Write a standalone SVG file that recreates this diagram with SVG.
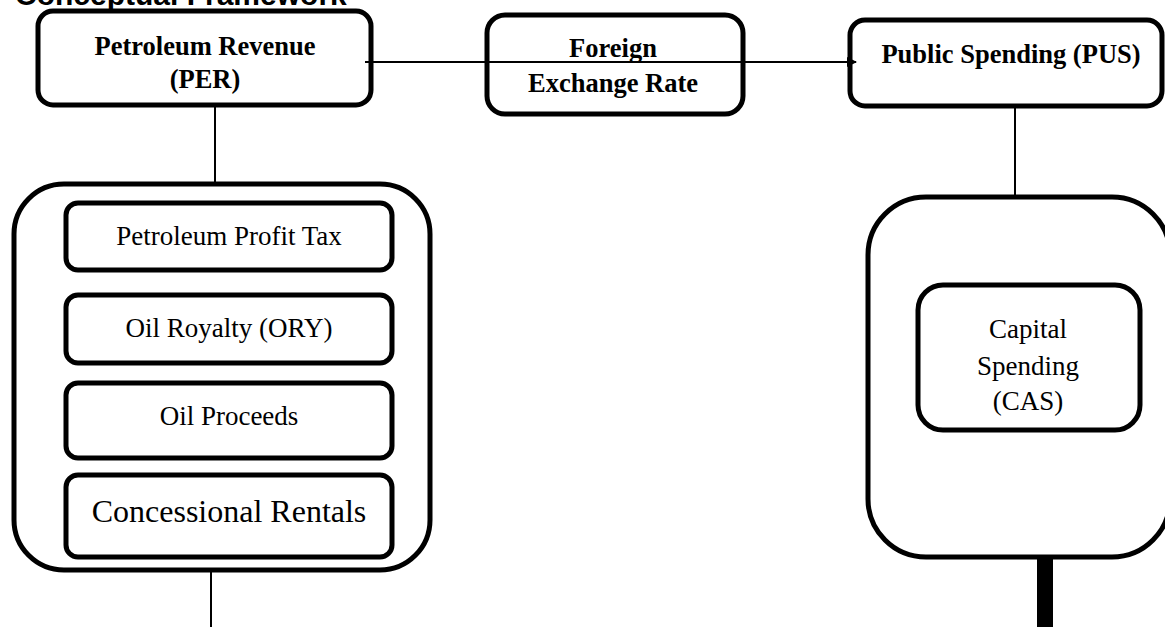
<svg xmlns="http://www.w3.org/2000/svg" width="1165" height="627" viewBox="0 0 1165 627">
<style>
.box{fill:#fff;stroke:#000;stroke-width:5}
.big{fill:#fff;stroke:#000;stroke-width:5}
.hb{font-family:"Liberation Serif","Times New Roman",serif;font-weight:bold;font-size:26.5px;text-anchor:middle;fill:#000}
.t{font-family:"Liberation Serif","Times New Roman",serif;font-size:27px;text-anchor:middle;fill:#000}
.ln{stroke:#000;stroke-width:2;fill:none}
</style>
<defs>
<marker id="arr" markerWidth="10" markerHeight="10" refX="9" refY="5" orient="auto" markerUnits="userSpaceOnUse">
<path d="M0,0 L10,5 L0,10 Z" fill="#000"/>
</marker>
</defs>
<rect width="1165" height="627" fill="#fff"/>
<text x="15" y="5" font-family="'Liberation Sans',Arial,sans-serif" font-weight="bold" font-size="30" fill="#000">Conceptual Framework</text>
<g id="connectors">
<line class="ln" x1="215" y1="106" x2="215" y2="184"/>
<line class="ln" x1="211" y1="570" x2="211" y2="627"/>
<line class="ln" x1="1015" y1="106" x2="1015" y2="197"/>
<rect x="1037" y="548" width="16" height="79" fill="#000"/>
</g>
<g id="left-group">
<rect class="big" x="14" y="184" width="416" height="386" rx="50"/>
</g>
<g id="right-group">
<rect class="big" x="868" y="197" width="302" height="360" rx="58"/>
</g>
<g id="per">
<rect class="box" x="38" y="11" width="333" height="94" rx="15"/>
<text class="hb" x="205" y="55">Petroleum Revenue</text>
<text class="hb" x="205" y="88">(PER)</text>
</g>
<g id="fx">
<rect class="box" x="487" y="15" width="256" height="99" rx="18"/>
<text class="hb" x="613" y="57">Foreign</text>
<text class="hb" x="613" y="92">Exchange Rate</text>
</g>
<g id="pus">
<rect class="box" x="850" y="20" width="312" height="86" rx="15"/>
<text class="hb" x="1011" y="63">Public Spending (PUS)</text>
</g>
<g id="ppt">
<rect class="box" x="66" y="203" width="326" height="67" rx="12"/>
<text class="t" x="229" y="245">Petroleum Profit Tax</text>
</g>
<g id="ory">
<rect class="box" x="66" y="295" width="326" height="68" rx="12"/>
<text class="t" x="229" y="337">Oil Royalty (ORY)</text>
</g>
<g id="proceeds">
<rect class="box" x="66" y="383" width="326" height="75" rx="12"/>
<text class="t" x="229" y="425">Oil Proceeds</text>
</g>
<g id="rentals">
<rect class="box" x="66" y="475" width="326" height="82" rx="12"/>
<text class="t" x="229" y="522" style="font-size:32px">Concessional Rentals</text>
</g>
<g id="cas">
<rect class="box" x="918" y="285" width="222" height="145" rx="25"/>
<text class="t" x="1028" y="338">Capital</text>
<text class="t" x="1028" y="375">Spending</text>
<text class="t" x="1028" y="410">(CAS)</text>
</g>
<g id="arrow">
<line class="ln" x1="365" y1="62" x2="856" y2="62" marker-end="url(#arr)"/>
</g>
</svg>
